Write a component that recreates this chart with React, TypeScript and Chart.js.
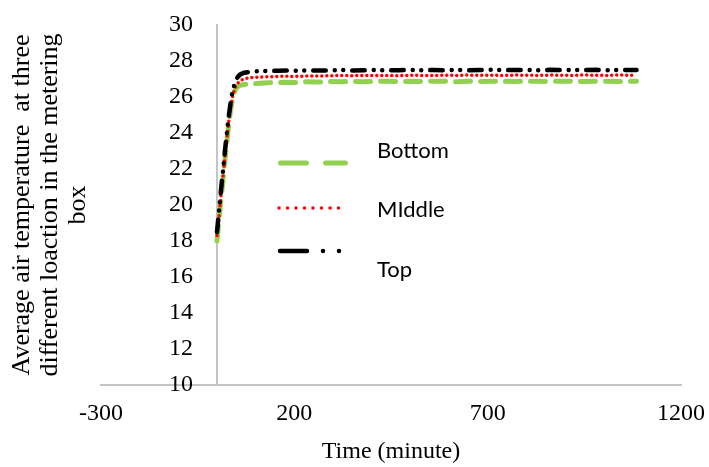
import React, { useEffect, useRef } from "react";
import { Chart, registerables } from "chart.js";

Chart.register(...registerables);

// ---------- data ----------
const timeMin = [
  0, 4, 8, 12, 16, 20, 24, 28, 32, 36, 40, 45, 50, 55, 60, 70, 80, 90, 100, 120,
  140, 160, 180, 200, 230, 260, 290, 320, 350, 380, 410, 440, 470, 500, 530, 560,
  590, 620, 650, 680, 710, 740, 770, 800, 830, 860, 890, 920, 950, 980, 1010,
  1040, 1070, 1085,
];

const bottomTemp = [
  18.0, 18.9, 19.8, 20.7, 21.5, 22.4, 23.2, 24.0, 24.8, 25.4, 25.9, 26.3, 26.5,
  26.6, 26.65, 26.7, 26.72, 26.75, 26.75, 26.78, 26.8, 26.8, 26.82, 26.8, 26.85,
  26.83, 26.86, 26.85, 26.87, 26.85, 26.86, 26.88, 26.85, 26.87, 26.86, 26.88,
  26.87, 26.85, 26.88, 26.86, 26.87, 26.88, 26.86, 26.88, 26.87, 26.86, 26.88,
  26.87, 26.86, 26.88, 26.87, 26.86, 26.87, 26.88,
];

const middleTemp = [
  18.3, 19.1, 20.0, 20.9, 21.7, 22.6, 23.4, 24.2, 24.9, 25.5, 26.0, 26.4, 26.65,
  26.8, 26.9, 27.0, 27.05, 27.08, 27.1, 27.12, 27.12, 27.15, 27.15, 27.14, 27.17,
  27.16, 27.18, 27.2, 27.18, 27.2, 27.19, 27.2, 27.18, 27.21, 27.2, 27.19, 27.21,
  27.2, 27.22, 27.2, 27.21, 27.2, 27.22, 27.21, 27.2, 27.22, 27.21, 27.2, 27.22,
  27.21, 27.2, 27.22, 27.21, 27.2,
];

const topTemp = [
  18.5, 19.4, 20.3, 21.2, 22.0, 22.9, 23.7, 24.5, 25.2, 25.8, 26.3, 26.7, 27.0,
  27.15, 27.25, 27.35, 27.38, 27.4, 27.42, 27.45, 27.45, 27.46, 27.47, 27.45,
  27.48, 27.47, 27.48, 27.5, 27.47, 27.48, 27.5, 27.48, 27.49, 27.5, 27.48, 27.5,
  27.49, 27.5, 27.48, 27.5, 27.51, 27.49, 27.5, 27.5, 27.49, 27.51, 27.5, 27.49,
  27.5, 27.51, 27.49, 27.5, 27.5, 27.5,
];

const seriesLabels = ["Bottom", "MIddle", "Top"];
const xTickValues = [-300, 200, 700, 1200];
const xMin = -300;
const xMax = 1200;
const yMin = 10;
const yMax = 30;
const yStep = 2;
const xTitle = "Time (minute)";
const yTitleLines = [
  "Average air temperature  at three",
  "different loaction in the metering",
  "box",
];

// ---------- styling ----------
const SERIF = "'Liberation Serif', 'Times New Roman', serif";
const AXIS_COLOR = "#c4c4c4";

const legendPlugin = {
  id: "insideLegend",
  afterDraw(chart: any, _args: any, opts: any) {
    const ctx = chart.ctx;
    opts.items.forEach((it: any, i: number) => {
      const ds = chart.data.datasets[i];
      ctx.save();
      ctx.strokeStyle = ds.borderColor;
      ctx.lineWidth = it.width;
      ctx.lineCap = "round";
      ctx.setLineDash(it.dash);
      ctx.beginPath();
      ctx.moveTo(it.x0, it.y);
      ctx.lineTo(it.x1, it.y);
      ctx.stroke();
      ctx.setLineDash([]);
      ctx.fillStyle = "#000";
      ctx.font = opts.font;
      ctx.textBaseline = "alphabetic";
      ctx.textAlign = "left";
      ctx.fillText(ds.label, it.tx, it.ty);
      ctx.restore();
    });
  },
};

export default function App() {
  const ref = useRef<HTMLCanvasElement>(null);

  useEffect(() => {
    const canvas = ref.current;
    if (!canvas) return;
    const toPts = (vals: number[]) => timeMin.map((t, i) => ({ x: t, y: vals[i] }));

    const chart = new Chart(canvas, {
      type: "line",
      data: {
        datasets: [
          {
            label: seriesLabels[0],
            data: toPts(bottomTemp),
            borderColor: "#92d050",
            borderWidth: 5,
            borderDash: [15, 10],
            borderCapStyle: "round",
            pointRadius: 0,
            fill: false,
            tension: 0,
            order: 2,
            yAxisID: "y",
            xAxisID: "x",
          },
          {
            label: seriesLabels[1],
            data: toPts(middleTemp),
            borderColor: "#ff0000",
            borderWidth: 3.5,
            borderDash: [0, 5],
            borderCapStyle: "round",
            pointRadius: 0,
            fill: false,
            tension: 0,
            order: 1,
            yAxisID: "y",
            xAxisID: "x",
          },
          {
            label: seriesLabels[2],
            data: toPts(topTemp),
            borderColor: "#000000",
            borderWidth: 4.5,
            borderDash: [12.5, 9, 0, 8.5, 0, 9],
            borderCapStyle: "round",
            pointRadius: 0,
            fill: false,
            tension: 0,
            order: 0,
            yAxisID: "y",
            xAxisID: "x",
          },
        ],
      },
      options: {
        responsive: false,
        animation: false,
        devicePixelRatio: 1,
        layout: { padding: { left: 0, right: 28, top: 25, bottom: 0 } },
        plugins: {
          legend: { display: false },
          tooltip: { enabled: false },
          insideLegend: {
            font: "22px Lato, 'Open Sans', sans-serif",
            items: [
              { x0: 280.5, x1: 345.5, y: 163, width: 5, dash: [26, 19], tx: 377, ty: 158 },
              { x0: 279, x1: 347, y: 208, width: 3.5, dash: [0, 8.5], tx: 377, ty: 217 },
              { x0: 280, x1: 342, y: 251, width: 4.5, dash: [27, 16, 0, 16, 0, 50], tx: 377, ty: 277 },
            ],
          },
        } as any,
        scales: {
          x: {
            type: "linear",
            min: xMin,
            max: xMax,
            position: "bottom",
            afterBuildTicks: (s: any) => {
              s.ticks = xTickValues.map((v) => ({ value: v }));
            },
            afterFit: (s: any) => {
              s.height = 82;
              s.paddingLeft = 0;
              s.paddingRight = 0;
            },
            grid: { display: false, drawTicks: false },
            border: { display: true, color: AXIS_COLOR, width: 2 },
            ticks: {
              font: { family: SERIF, size: 24 },
              color: "#000",
              padding: 14,
              maxRotation: 0,
              autoSkip: false,
              callback: (v: any) => String(v),
            },
            title: {
              display: true,
              text: xTitle,
              font: { family: SERIF, size: 24 },
              color: "#000",
              padding: { top: 0, bottom: 1 },
            },
          },
          y: {
            type: "linear",
            min: yMin,
            max: yMax,
            position: { x: 0 } as any,
            grid: { display: false, drawTicks: false },
            border: { display: true, color: AXIS_COLOR, width: 2 },
            ticks: {
              stepSize: yStep,
              font: { family: SERIF, size: 24 },
              color: "#000",
              padding: 0,
              callback: (v: any) => String(v) + "\u2002\u2002",
            },
          },
          yTitle: {
            type: "linear",
            position: "left",
            display: true,
            min: 0,
            max: 1,
            afterFit: (s: any) => {
              s.width = 101;
            },
            ticks: { display: false },
            grid: { display: false, drawTicks: false },
            border: { display: false },
            title: {
              display: true,
              text: yTitleLines,
              font: { family: SERIF, size: 26, lineHeight: 28 / 26 },
              color: "#000",
              padding: { top: 8, bottom: 0 },
            },
          },
        } as any,
      },
      plugins: [legendPlugin as any],
    });

    return () => chart.destroy();
  }, []);

  return (
    <div
      style={{
        position: "fixed",
        left: 0,
        top: 0,
        width: 709,
        height: 467,
        background: "#fff",
      }}
    >
      <canvas ref={ref} width={709} height={467} style={{ display: "block" }} />
    </div>
  );
}
